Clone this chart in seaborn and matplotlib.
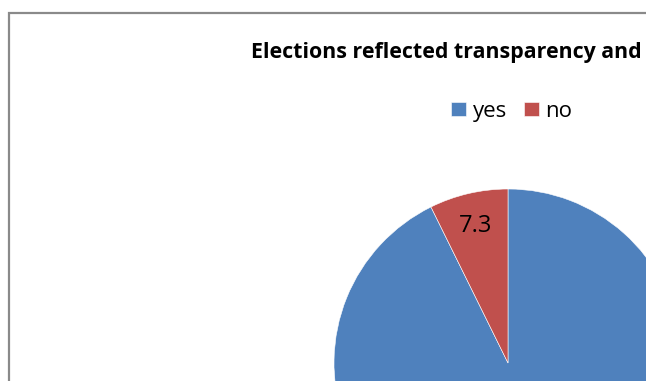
import matplotlib
matplotlib.use("Agg")
import matplotlib.pyplot as plt
from matplotlib.patches import Rectangle
import seaborn as sns

# Survey answers (percent)
categories = ["yes", "no"]
values = [92.7, 7.3]
title = "Elections reflected transparency and"

sns.set_theme(style="white")
plt.rcParams["font.family"] = ["Open Sans", "DejaVu Sans"]
colors = ["#4F81BD", "#C0504D"]

W, H = 646, 381
fig = plt.figure(figsize=(W / 100, H / 100), dpi=100)
ax = fig.add_axes([0, 0, 1, 1])

wedges, texts, autotexts = ax.pie(
    values,
    colors=colors,
    startangle=90,
    counterclock=False,
    center=(508, H - 363),
    radius=174,
    autopct=lambda p: f"{p:.1f}",
    pctdistance=0.81,
    textprops=dict(fontsize=17, color="black"),
    wedgeprops=dict(edgecolor="white", linewidth=0.4),
)
# the "yes" value label sits below the visible chart area
autotexts[0].set_visible(False)

ax.set_xlim(0, W)
ax.set_ylim(0, H)
ax.set_aspect("equal", adjustable="box")
ax.axis("off")

# chart area border
ax.add_patch(Rectangle((8.5, -20), 800, H - 13 + 20, fill=False,
                       edgecolor="#8a8a8a", linewidth=1.6, zorder=0,
                       clip_on=False))

ax.text(251, H - 58, title, ha="left", va="baseline",
        fontsize=15.4, fontweight="bold", color="black")

leg = ax.legend(wedges, categories, ncol=2, loc="upper left",
                bbox_to_anchor=(451 / W, 1 - 101 / H), frameon=False,
                fontsize=16, handlelength=0.68, handleheight=0.63,
                handletextpad=0.3, columnspacing=0.75,
                borderaxespad=0, borderpad=0)
for t in leg.get_texts():
    t.set_color("black")

fig.savefig("out.png", dpi=100)
